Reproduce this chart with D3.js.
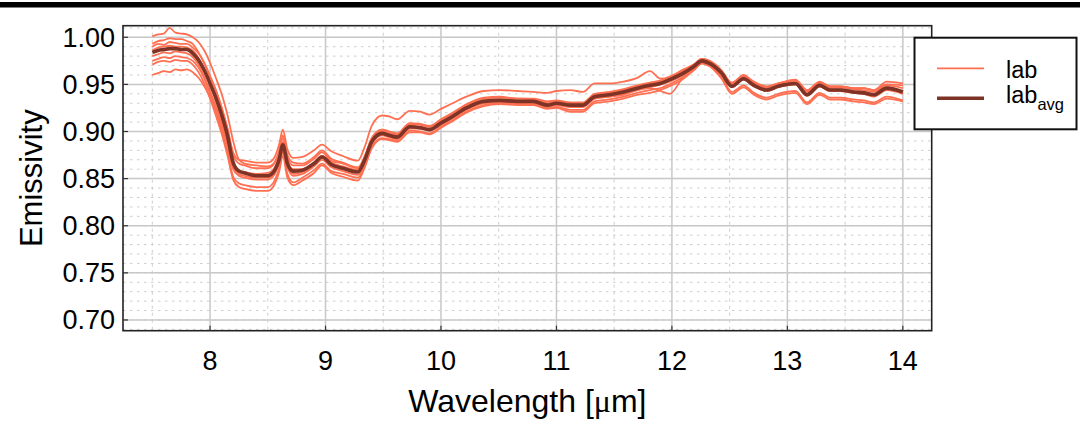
<!DOCTYPE html>
<html><head><meta charset="utf-8">
<script src="https://cdn.jsdelivr.net/npm/d3@7"></script>
<style>html,body{margin:0;padding:0;background:#fff;}svg{display:block;font-family:"Liberation Sans",Arial,sans-serif;}</style>
</head><body>
<svg id="chart" width="1080" height="421"></svg>
<script>
const wavelengths = [7.50,7.55,7.60,7.65,7.70,7.75,7.80,7.85,7.90,7.95,8.00,8.05,8.10,8.15,8.20,8.25,8.30,8.40,8.50,8.55,8.60,8.63,8.67,8.72,8.80,8.90,8.97,9.05,9.15,9.28,9.34,9.40,9.49,9.55,9.62,9.73,9.82,9.90,10.00,10.10,10.22,10.37,10.51,10.66,10.80,10.92,11.00,11.12,11.23,11.33,11.46,11.58,11.70,11.81,11.90,11.98,12.10,12.19,12.26,12.33,12.43,12.52,12.62,12.71,12.82,12.92,13.07,13.17,13.28,13.37,13.46,13.57,13.66,13.75,13.86,14.00];
const labAvg = [0.984,0.986,0.987,0.988,0.988,0.987,0.987,0.983,0.976,0.965,0.951,0.936,0.918,0.896,0.867,0.858,0.856,0.853,0.853,0.857,0.871,0.886,0.866,0.858,0.859,0.866,0.873,0.865,0.861,0.857,0.870,0.889,0.898,0.896,0.894,0.905,0.904,0.902,0.909,0.916,0.925,0.932,0.933,0.932,0.932,0.928,0.930,0.928,0.928,0.937,0.939,0.942,0.946,0.949,0.951,0.955,0.962,0.969,0.975,0.972,0.962,0.948,0.956,0.949,0.944,0.948,0.951,0.939,0.949,0.944,0.944,0.942,0.941,0.939,0.946,0.942];
const lab1 = [1.001,1.003,1.004,1.010,1.005,1.004,1.003,1.000,0.995,0.986,0.973,0.957,0.940,0.918,0.890,0.870,0.866,0.864,0.863,0.866,0.880,0.896,0.875,0.867,0.866,0.873,0.880,0.871,0.867,0.862,0.874,0.893,0.902,0.900,0.898,0.909,0.908,0.906,0.913,0.920,0.929,0.936,0.937,0.935,0.935,0.932,0.933,0.931,0.931,0.940,0.942,0.945,0.949,0.952,0.954,0.958,0.965,0.971,0.977,0.975,0.965,0.951,0.960,0.952,0.947,0.951,0.954,0.943,0.952,0.948,0.948,0.946,0.946,0.944,0.953,0.951];
const lab2 = [0.993,0.996,0.997,0.999,0.998,0.998,0.996,0.993,0.984,0.972,0.958,0.944,0.926,0.904,0.878,0.870,0.869,0.867,0.867,0.871,0.887,0.902,0.881,0.872,0.873,0.880,0.886,0.879,0.874,0.869,0.884,0.906,0.917,0.916,0.913,0.922,0.921,0.918,0.924,0.930,0.937,0.943,0.944,0.943,0.942,0.941,0.943,0.944,0.942,0.951,0.951,0.953,0.957,0.964,0.956,0.958,0.966,0.971,0.977,0.974,0.964,0.952,0.959,0.953,0.948,0.951,0.955,0.944,0.953,0.948,0.948,0.946,0.946,0.944,0.950,0.949];
const lab3 = [0.990,0.993,0.992,0.995,0.994,0.993,0.993,0.989,0.983,0.973,0.959,0.944,0.925,0.903,0.875,0.866,0.864,0.861,0.861,0.865,0.879,0.893,0.872,0.864,0.864,0.871,0.878,0.869,0.866,0.861,0.873,0.893,0.902,0.900,0.897,0.908,0.907,0.905,0.912,0.919,0.928,0.935,0.936,0.935,0.934,0.931,0.932,0.930,0.930,0.939,0.941,0.944,0.948,0.951,0.953,0.957,0.964,0.971,0.977,0.974,0.964,0.950,0.958,0.951,0.947,0.950,0.954,0.942,0.951,0.947,0.947,0.945,0.944,0.942,0.949,0.946];
const lab4 = [0.980,0.982,0.984,0.983,0.985,0.984,0.983,0.979,0.971,0.958,0.943,0.927,0.909,0.887,0.860,0.853,0.851,0.849,0.849,0.853,0.868,0.884,0.862,0.853,0.855,0.863,0.870,0.862,0.858,0.854,0.867,0.887,0.896,0.894,0.892,0.903,0.903,0.901,0.907,0.914,0.923,0.930,0.931,0.930,0.930,0.926,0.928,0.926,0.926,0.935,0.937,0.940,0.944,0.947,0.950,0.953,0.960,0.968,0.975,0.972,0.961,0.947,0.955,0.948,0.943,0.947,0.950,0.938,0.948,0.943,0.943,0.941,0.940,0.938,0.945,0.941];
const lab5 = [0.975,0.977,0.979,0.978,0.980,0.979,0.978,0.975,0.968,0.956,0.940,0.922,0.902,0.879,0.852,0.845,0.843,0.841,0.841,0.846,0.862,0.878,0.855,0.846,0.851,0.859,0.866,0.858,0.855,0.851,0.864,0.884,0.893,0.892,0.890,0.901,0.900,0.898,0.905,0.912,0.921,0.928,0.930,0.929,0.929,0.925,0.926,0.923,0.923,0.932,0.934,0.937,0.941,0.944,0.946,0.950,0.958,0.966,0.973,0.970,0.958,0.942,0.949,0.941,0.936,0.940,0.943,0.931,0.941,0.936,0.936,0.934,0.933,0.931,0.937,0.933];
const lab6 = [0.971,0.974,0.975,0.974,0.976,0.975,0.975,0.971,0.963,0.951,0.935,0.917,0.898,0.875,0.849,0.841,0.839,0.837,0.837,0.842,0.858,0.874,0.851,0.843,0.848,0.856,0.864,0.856,0.852,0.848,0.862,0.882,0.892,0.891,0.889,0.899,0.899,0.897,0.904,0.911,0.920,0.927,0.929,0.928,0.928,0.924,0.925,0.921,0.921,0.930,0.932,0.935,0.939,0.941,0.944,0.948,0.956,0.965,0.972,0.969,0.956,0.940,0.947,0.939,0.934,0.938,0.941,0.929,0.939,0.934,0.934,0.932,0.931,0.929,0.935,0.932];
const lab7 = [0.960,0.962,0.964,0.963,0.966,0.965,0.966,0.963,0.957,0.948,0.936,0.922,0.905,0.886,0.862,0.858,0.857,0.855,0.856,0.860,0.874,0.889,0.868,0.860,0.860,0.867,0.874,0.866,0.862,0.858,0.871,0.889,0.898,0.896,0.894,0.904,0.904,0.902,0.908,0.915,0.924,0.931,0.932,0.931,0.931,0.927,0.929,0.928,0.928,0.936,0.938,0.941,0.945,0.948,0.950,0.954,0.961,0.968,0.975,0.972,0.962,0.948,0.957,0.950,0.945,0.949,0.952,0.940,0.950,0.945,0.945,0.943,0.942,0.940,0.947,0.943];
const lab8 = [0.986,0.989,0.990,0.991,0.990,0.990,0.989,0.986,0.978,0.966,0.950,0.933,0.914,0.891,0.863,0.855,0.853,0.851,0.851,0.855,0.870,0.887,0.864,0.855,0.857,0.866,0.874,0.867,0.863,0.859,0.872,0.891,0.900,0.898,0.896,0.906,0.905,0.903,0.910,0.917,0.926,0.933,0.934,0.933,0.933,0.929,0.931,0.928,0.927,0.935,0.937,0.939,0.944,0.946,0.943,0.940,0.958,0.968,0.975,0.972,0.962,0.948,0.955,0.948,0.943,0.947,0.950,0.938,0.948,0.943,0.943,0.941,0.940,0.937,0.944,0.940];
const labSeries = [lab1, lab2, lab3, lab4, lab5, lab6, lab7, lab8];
const xTicks = [8, 9, 10, 11, 12, 13, 14];
const xMinorTicks = [7.5, 8.5, 9.5, 10.5, 11.5, 12.5, 13.5];
const yTicks = [0.70, 0.75, 0.80, 0.85, 0.90, 0.95, 1.00];
const yMinorTicks = d3.range(69, 102).map(v => v / 100);
const legendLabels = ["lab", "lab", "avg"];
const xTitle = "Wavelength [", xTitleMu = "\u03bc", xTitleEnd = "m]";
const yTitle = "Emissivity";

const svg = d3.select("#chart");
const L = 123, R = 931.7, T = 25.7, B = 330.7;
const x = d3.scaleLinear().domain([7.246, 14.25]).range([L, R]);
const y = d3.scaleLinear().domain([0.6886, 1.0123]).range([B, T]);

svg.append("rect").attr("x", 0).attr("y", 2).attr("width", 1080).attr("height", 5.5).attr("fill", "#000");

const grid = svg.append("g");
grid.selectAll(".ymin").data(yMinorTicks).join("line")
  .attr("x1", L).attr("x2", R).attr("y1", d => y(d)).attr("y2", d => y(d))
  .attr("stroke", "#cdcdcd").attr("stroke-width", 1).attr("stroke-dasharray", "2.5,4.5");
grid.selectAll(".xmin").data(xMinorTicks).join("line")
  .attr("y1", T).attr("y2", B).attr("x1", d => x(d)).attr("x2", d => x(d))
  .attr("stroke", "#cdcdcd").attr("stroke-width", 1).attr("stroke-dasharray", "3,4");
grid.selectAll(".ymaj").data(yTicks).join("line")
  .attr("x1", L).attr("x2", R).attr("y1", d => y(d)).attr("y2", d => y(d))
  .attr("stroke", "#c8c8c8").attr("stroke-width", 1.5);
grid.selectAll(".xmaj").data(xTicks).join("line")
  .attr("y1", T).attr("y2", B).attr("x1", d => x(d)).attr("x2", d => x(d))
  .attr("stroke", "#c8c8c8").attr("stroke-width", 1.5);

svg.append("clipPath").attr("id", "clip").append("rect")
  .attr("x", L).attr("y", T).attr("width", R - L).attr("height", B - T);

const line = d3.line().x((d, i) => x(wavelengths[i])).y(d => y(d)).curve(d3.curveMonotoneX);
const plot = svg.append("g").attr("clip-path", "url(#clip)");
plot.selectAll(".lab").data(labSeries).join("path")
  .attr("d", line).attr("fill", "none").attr("stroke", "#ff7052").attr("stroke-width", 1.8)
  .attr("stroke-linejoin", "round");
plot.append("path").attr("d", line(labAvg)).attr("fill", "none")
  .attr("stroke", "#7d3325").attr("stroke-width", 3.6).attr("stroke-linejoin", "round");

svg.append("rect").attr("x", L).attr("y", T).attr("width", R - L).attr("height", B - T)
  .attr("fill", "none").attr("stroke", "#222").attr("stroke-width", 1.6);

svg.selectAll(".yt").data(yTicks).join("line")
  .attr("x1", L).attr("x2", L + 5).attr("y1", d => y(d)).attr("y2", d => y(d))
  .attr("stroke", "#333").attr("stroke-width", 1.2);
svg.selectAll(".xt").data(xTicks).join("line")
  .attr("y1", B).attr("y2", B - 5).attr("x1", d => x(d)).attr("x2", d => x(d))
  .attr("stroke", "#333").attr("stroke-width", 1.2);

svg.selectAll(".ytl").data(yTicks).join("text")
  .attr("x", 115).attr("y", d => y(d)).attr("dy", "0.35em").attr("text-anchor", "end")
  .attr("font-size", 27).attr("fill", "#000").text(d => d3.format(".2f")(d));
svg.selectAll(".xtl").data(xTicks).join("text")
  .attr("x", d => x(d)).attr("y", 369.5).attr("text-anchor", "middle")
  .attr("font-size", 27).attr("fill", "#000").text(d => d);

const xt = svg.append("text").attr("x", (L + R) / 2).attr("y", 411.5).attr("text-anchor", "middle")
  .attr("font-size", 32).attr("fill", "#000");
xt.append("tspan").text(xTitle);
xt.append("tspan").attr("font-family", "'Liberation Serif', serif").text(xTitleMu);
xt.append("tspan").text(xTitleEnd);

svg.append("text").attr("transform", `translate(41.7,${(T + B) / 2}) rotate(-90)`)
  .attr("text-anchor", "middle").attr("font-size", 31).attr("fill", "#000").text(yTitle);

const lg = svg.append("g");
lg.append("rect").attr("x", 914.5).attr("y", 37.7).attr("width", 162).attr("height", 91.6)
  .attr("fill", "#fff").attr("stroke", "#111").attr("stroke-width", 2);
lg.append("line").attr("x1", 937).attr("x2", 984).attr("y1", 68.3).attr("y2", 68.3)
  .attr("stroke", "#ff7052").attr("stroke-width", 1.8);
lg.append("line").attr("x1", 937).attr("x2", 984).attr("y1", 98.3).attr("y2", 98.3)
  .attr("stroke", "#7d3325").attr("stroke-width", 3.6);
lg.append("text").attr("x", 1006).attr("y", 78.3).attr("font-size", 23.5).attr("fill", "#000").text(legendLabels[0]);
const t2 = lg.append("text").attr("x", 1006).attr("y", 103.3).attr("font-size", 23.5).attr("fill", "#000");
t2.append("tspan").text(legendLabels[1]);
t2.append("tspan").attr("font-size", 16.5).attr("dy", 6.5).text(legendLabels[2]);
</script>
</body></html>
